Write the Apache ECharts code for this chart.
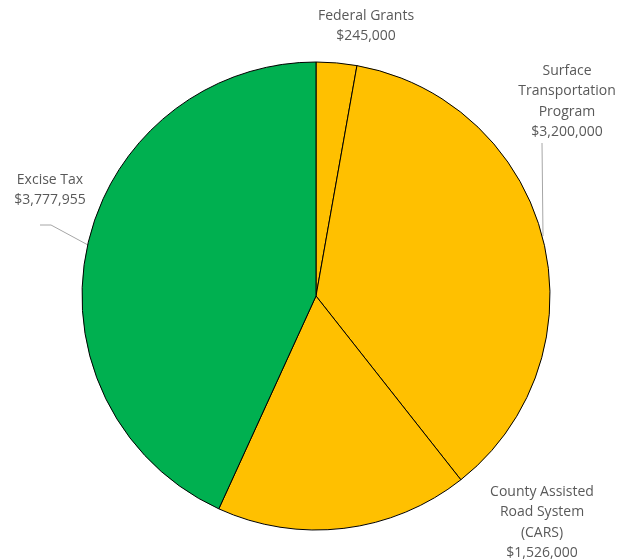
<!DOCTYPE html>
<html>
<head>
<meta charset="utf-8">
<script src="https://cdn.jsdelivr.net/npm/echarts@6/dist/echarts.min.js"></script>
<style>html,body{margin:0;padding:0;background:#fff;}#c{width:633px;height:560px;}</style>
</head>
<body>
<div id="c"></div>
<script>
const categories = ['Federal Grants', 'Surface\nTransportation\nProgram', 'County Assisted\nRoad System\n(CARS)', 'Excise Tax'];
const values = [245000, 3200000, 1526000, 3777955];
const colors = ['#FFC000', '#FFC000', '#FFC000', '#00B050'];

const fmt = v => '$' + v.toLocaleString('en-US');

const labelPos = [
  {x: 366, y: 6, align: 'center', line: null},
  {x: 567, y: 61, align: 'center', line: [[542, 143], [542, 143], [543, 236]]},
  {x: 542, y: 482, align: 'center', line: null},
  {x: 50, y: 170, align: 'center', line: [[40, 225], [51, 225], [88, 245]]}
];

const chart = echarts.init(document.getElementById('c'));
chart.setOption({
  animation: false,
  series: [{
    type: 'pie',
    center: [316, 296],
    radius: 234,
    startAngle: 90,
    clockwise: true,
    data: categories.map((c, i) => ({name: c, value: values[i], itemStyle: {color: colors[i]}})),
    itemStyle: {borderColor: '#000', borderWidth: 1},
    label: {
      show: true,
      formatter: p => p.name + '\n' + fmt(p.value),
      color: '#595959',
      fontFamily: 'Open Sans',
      fontSize: 14,
      lineHeight: 20.3,
      align: 'center',
      overflow: 'none'
    },
    labelLine: {show: true, lineStyle: {color: '#A6A6A6', width: 1}, length: 10, length2: 10},
    labelLayout: function (params) {
      const p = labelPos[params.dataIndex];
      const r = {x: p.x, y: p.y, align: p.align, verticalAlign: 'top'};
      if (p.line) r.labelLinePoints = p.line;
      else r.labelLinePoints = [[0,0],[0,0],[0,0]];
      return r;
    },
    emphasis: {disabled: true}
  }]
});
</script>
</body>
</html>
